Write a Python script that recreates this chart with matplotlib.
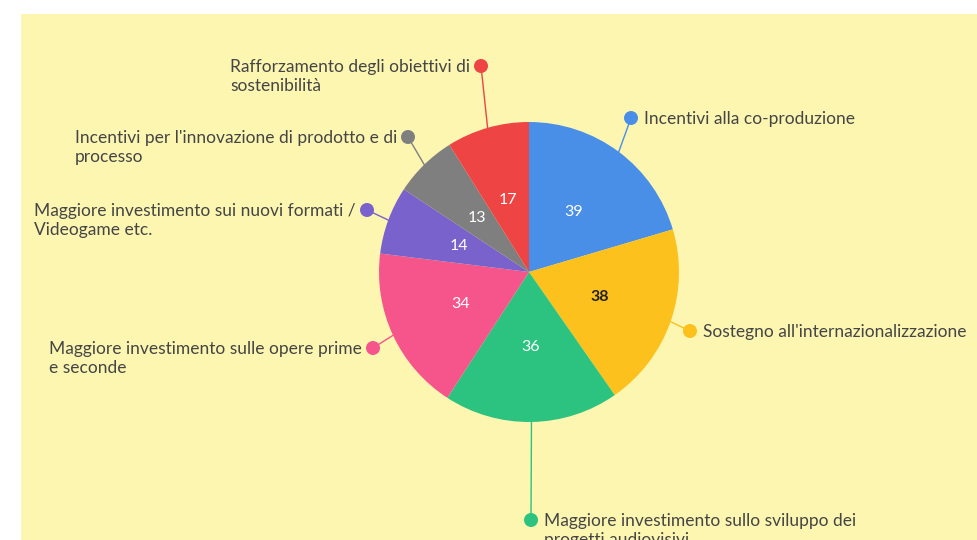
import numpy as np
import matplotlib.pyplot as plt
from matplotlib.patches import Rectangle, Circle

plt.rcParams['font.family'] = ['Lato', 'DejaVu Sans']

# data (clockwise from 12 o'clock)
labels = [
    "Incentivi alla co-produzione",
    "Sostegno all'internazionalizzazione",
    "Maggiore investimento sullo sviluppo dei\nprogetti audiovisivi",
    "Maggiore investimento sulle opere prime\ne seconde",
    "Maggiore investimento sui nuovi formati /\nVideogame etc.",
    "Incentivi per l'innovazione di prodotto e di\nprocesso",
    "Rafforzamento degli obiettivi di\nsostenibilità",
]
values = [39, 38, 36, 34, 14, 13, 17]
colors = ["#4a8fe7", "#fcc11c", "#2cc27f", "#f6558c", "#7a62cc", "#7f7f7f", "#ee4444"]

W, H = 977, 540
bg = "#fcf6b1"
txt = "#454545"

# layout: dot position of each label (pixels from top-left) and which side the text goes
dots = [(631, 118), (690, 331), (531, 520), (373, 348), (367, 210), (408, 137), (481, 66)]
side = ["right", "right", "right", "left", "left", "left", "left"]

fig = plt.figure(figsize=(W / 100, H / 100), dpi=100)
fig.patch.set_facecolor("white")

ax = fig.add_axes([0, 0, 1, 1])
ax.add_patch(Rectangle((21, 0), W - 21, H - 14, facecolor=bg, edgecolor="none", zorder=-5))
cx, cy, r = 529, H - 272, 150

wedges, _, autotexts = ax.pie(values, colors=colors, startangle=90, counterclock=False,
                              center=(cx, cy), radius=r, pctdistance=0.5,
                              autopct=lambda p: "%d" % round(p * sum(values) / 100),
                              textprops=dict(color="white", fontsize=11.5),
                              wedgeprops=dict(linewidth=0))
for t, v in zip(autotexts, values):
    if v == 38:
        t.set_color("#222222")
        t.set_fontweight("bold")

fs = 12.5
for w, lab, (dx, dy), s, c in zip(wedges, labels, dots, side, colors):
    ang = np.deg2rad((w.theta1 + w.theta2) / 2)
    ex, ey = cx + r * np.cos(ang), cy + r * np.sin(ang)
    dy = H - dy
    ax.plot([ex, dx], [ey, dy], color=c, lw=1, zorder=1)
    ax.add_patch(Circle((dx, dy), 7, facecolor=c, edgecolor="none", zorder=3))
    if s == "right":
        ax.text(dx + 13, dy + 7, lab, ha="left", va="top", ma="left",
                fontsize=fs, color=txt, linespacing=1.22)
    else:
        ax.text(dx - 11, dy + 7, lab, ha="right", va="top", ma="left",
                fontsize=fs, color=txt, linespacing=1.22)

ax.set_xlim(0, W)
ax.set_ylim(0, H)
ax.set_aspect("equal")
ax.axis("off")

fig.savefig("out.png", dpi=100)
